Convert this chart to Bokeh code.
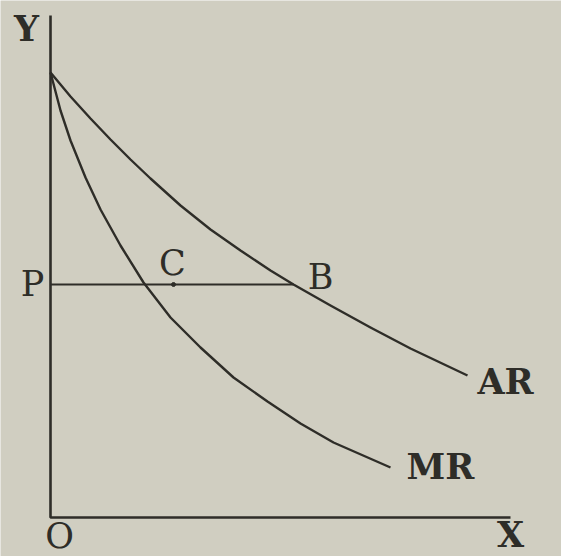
from bokeh.plotting import figure
from bokeh.models import Range1d, ColumnDataSource
from bokeh.core.properties import value
from bokeh.embed import file_html
from bokeh.resources import INLINE

# Average revenue (AR) curve: quantity vs price
ar_q = [0, 20, 40, 60, 80, 100, 130, 160, 190, 220, 243, 280, 320, 360, 417]
ar_p = [445, 421, 399, 378, 358, 339, 312, 288, 267, 247, 233, 212, 190, 169, 142]

# Marginal revenue (MR) curve
mr_q = [0, 10, 20, 35, 50, 70, 93, 120, 150, 183, 217, 250, 283, 340]
mr_p = [445, 407, 377, 340, 308, 272, 235, 200, 170, 140, 116, 94, 75, 50]

# Price level P and the points C and B on the price line
price_p = 233
point_c_q = 123
point_b_q = 243

# Axis extents
y_axis_top = 502
x_axis_right = 460

INK = "#2e2d28"
PAPER = "#d0cec1"

p = figure(width=561, height=556, output_backend="svg", toolbar_location=None,
           x_range=Range1d(-50, 511), y_range=Range1d(-39, 517),
           min_border=0)
p.axis.visible = False
p.grid.visible = False
p.outline_line_color = None
p.background_fill_color = PAPER
p.border_fill_color = PAPER

# Axes OY and OX
p.line([0, 0, x_axis_right], [y_axis_top, 0, 0], line_color=INK, line_width=2.6)

# Revenue curves
p.line(ar_q, ar_p, line_color=INK, line_width=2.4, line_join="round")
p.line(mr_q, mr_p, line_color=INK, line_width=2.4, line_join="round")

# Price line from P to B
p.line([0, point_b_q], [price_p, price_p], line_color=INK, line_width=2.2)
p.scatter([point_c_q], [price_p], size=4, color=INK)

# Labels
bold = ColumnDataSource(dict(
    x=[-24, 455, 390, 460],
    y=[489, 136, 51, -17],
    t=["Y", "AR", "MR", "X"],
))
normal = ColumnDataSource(dict(
    x=[-18, 9, 122, 270],
    y=[234, -18, 255, 241],
    t=["P", "O", "C", "B"],
))
p.text(x="x", y="y", text="t", source=bold, text_font=value("DejaVu Serif"),
       text_font_style="bold", text_font_size="35px", text_color=INK,
       text_align="center", text_baseline="middle")
p.text(x="x", y="y", text="t", source=normal, text_font=value("DejaVu Serif"),
       text_font_size="35px", text_color=INK,
       text_align="center", text_baseline="middle")

open("out.html", "w").write(file_html(p, INLINE))
